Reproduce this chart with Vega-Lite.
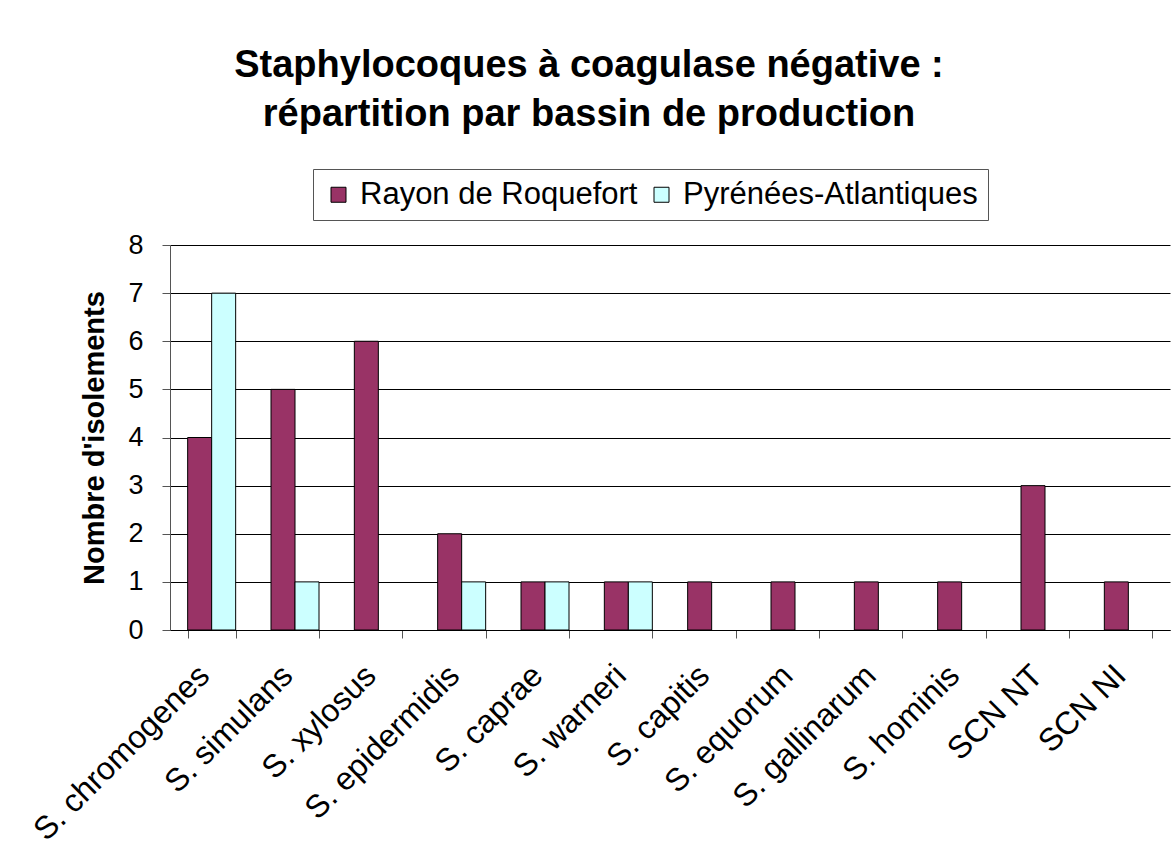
{
  "$schema": "https://vega.github.io/schema/vega-lite/v6.json",
  "width": 1000,
  "height": 385,
  "autosize": {"type": "none"},
  "padding": {"left": 170, "top": 245, "right": 4, "bottom": 215},
  "background": "white",
  "title": {
    "text": ["Staphylocoques à coagulase négative :", "répartition par bassin de production"],
    "font": "Liberation Sans",
    "fontSize": 38,
    "fontWeight": "bold",
    "color": "#000000",
    "anchor": "middle",
    "frame": "group",
    "dx": -81,
    "lineHeight": 49,
    "offset": 35
  },
  "data": {
    "values": [
      {"espece": "S. chromogenes", "bassin": "Rayon de Roquefort", "n": 4},
      {"espece": "S. chromogenes", "bassin": "Pyrénées-Atlantiques", "n": 7},
      {"espece": "S. simulans", "bassin": "Rayon de Roquefort", "n": 5},
      {"espece": "S. simulans", "bassin": "Pyrénées-Atlantiques", "n": 1},
      {"espece": "S. xylosus", "bassin": "Rayon de Roquefort", "n": 6},
      {"espece": "S. epidermidis", "bassin": "Rayon de Roquefort", "n": 2},
      {"espece": "S. epidermidis", "bassin": "Pyrénées-Atlantiques", "n": 1},
      {"espece": "S. caprae", "bassin": "Rayon de Roquefort", "n": 1},
      {"espece": "S. caprae", "bassin": "Pyrénées-Atlantiques", "n": 1},
      {"espece": "S. warneri", "bassin": "Rayon de Roquefort", "n": 1},
      {"espece": "S. warneri", "bassin": "Pyrénées-Atlantiques", "n": 1},
      {"espece": "S. capitis", "bassin": "Rayon de Roquefort", "n": 1},
      {"espece": "S. equorum", "bassin": "Rayon de Roquefort", "n": 1},
      {"espece": "S. gallinarum", "bassin": "Rayon de Roquefort", "n": 1},
      {"espece": "S. hominis", "bassin": "Rayon de Roquefort", "n": 1},
      {"espece": "SCN NT", "bassin": "Rayon de Roquefort", "n": 3},
      {"espece": "SCN NI", "bassin": "Rayon de Roquefort", "n": 1}
    ]
  },
  "mark": {"type": "bar", "stroke": "#000000", "strokeWidth": 1, "opacity": 1},
  "encoding": {
    "x": {
      "field": "espece",
      "type": "nominal",
      "sort": ["S. chromogenes", "S. simulans", "S. xylosus", "S. epidermidis", "S. caprae", "S. warneri", "S. capitis", "S. equorum", "S. gallinarum", "S. hominis", "SCN NT", "SCN NI"],
      "scale": {"paddingInner": 0.424, "paddingOuter": 0.212},
      "axis": {
        "title": null,
        "labelAngle": -45,
        "labelAlign": "right",
        "labelBaseline": "middle",
        "labelFont": "Liberation Sans",
        "labelFontSize": 32,
        "labelColor": "#000000",
        "labelPadding": 32,
        "labelOffset": -8,
        "labelOverlap": false,
        "labelLimit": 0,
        "tickBand": "extent",
        "tickSize": 8,
        "tickColor": "#555555",
        "domainColor": "#000000",
        "grid": false
      }
    },
    "xOffset": {
      "field": "bassin",
      "type": "nominal",
      "sort": ["Rayon de Roquefort", "Pyrénées-Atlantiques"],
      "scale": {"paddingInner": 0, "paddingOuter": 0}
    },
    "y": {
      "field": "n",
      "type": "quantitative",
      "scale": {"domain": [0, 8], "nice": false},
      "axis": {
        "title": "Nombre d'isolements",
        "titleFont": "Liberation Sans",
        "titleFontSize": 29,
        "titleFontWeight": "bold",
        "titleColor": "#000000",
        "titlePadding": 18,
        "values": [0, 1, 2, 3, 4, 5, 6, 7, 8],
        "format": "d",
        "labelFont": "Liberation Sans",
        "labelFontSize": 27,
        "labelColor": "#000000",
        "labelPadding": 19,
        "tickSize": 8,
        "tickColor": "#555555",
        "domainColor": "#555555",
        "grid": true,
        "gridColor": "#000000",
        "gridWidth": 1,
        "gridOpacity": 1
      }
    },
    "color": {
      "field": "bassin",
      "type": "nominal",
      "scale": {"domain": ["Rayon de Roquefort", "Pyrénées-Atlantiques"], "range": ["#993366", "#CCFFFF"]},
      "legend": {
        "title": null,
        "orient": "none",
        "legendX": 143,
        "legendY": -76,
        "direction": "horizontal",
        "symbolType": "square",
        "symbolSize": 225,
        "symbolStrokeColor": "#000000",
        "symbolStrokeWidth": 1,
        "symbolOpacity": 1,
        "labelFont": "Liberation Sans",
        "labelFontSize": 31,
        "labelColor": "#000000",
        "labelOffset": 6,
        "labelLimit": 0,
        "columnPadding": 8,
        "padding": 10,
        "strokeColor": "#555555",
        "fillColor": "#ffffff"
      }
    }
  },
  "config": {
    "view": {"stroke": null},
    "font": "Liberation Sans"
  }
}
